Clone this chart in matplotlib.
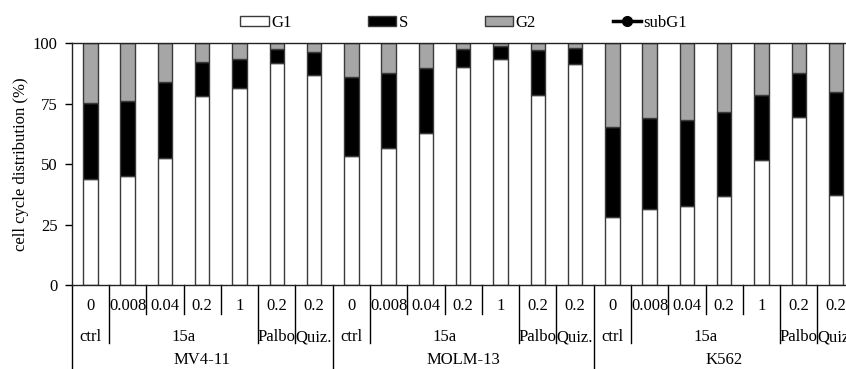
import matplotlib
matplotlib.use("Agg")
import matplotlib.pyplot as plt
from matplotlib.patches import Patch
from matplotlib.lines import Line2D
import numpy as np

plt.rcParams['font.family'] = ['Liberation Serif', 'DejaVu Serif']
plt.rcParams['font.size'] = 12

cell_lines = ["MV4-11", "MOLM-13", "K562"]
treatments = ["ctrl", "15a", "15a", "15a", "15a", "Palbo", "Quiz."]
doses = ["0", "0.008", "0.04", "0.2", "1", "0.2", "0.2"]

g1 = [44.0, 45.0, 52.7, 78.2, 81.5, 92.0, 86.9,
      53.4, 56.6, 62.8, 90.3, 93.4, 78.5, 91.4,
      28.0, 31.4, 32.7, 36.8, 51.7, 69.6, 37.2]
s = [31.5, 31.0, 31.4, 14.2, 11.9, 5.6, 9.4,
     32.7, 31.0, 27.1, 7.2, 5.5, 18.7, 6.5,
     37.5, 37.6, 35.6, 34.9, 26.9, 18.0, 42.8]
g2 = [24.5, 24.0, 15.9, 7.6, 6.6, 2.4, 3.7,
      13.9, 12.4, 10.1, 2.5, 1.1, 2.8, 2.1,
      34.5, 31.0, 31.7, 28.3, 21.4, 12.4, 20.0]

W, H = 846, 369
fig = plt.figure(figsize=(W / 100, H / 100), dpi=100)
left_px, right_px, top_px, bot_px = 71.7, 854.7, 43.3, 285.0
ax = fig.add_axes([left_px / W, 1 - bot_px / H, (right_px - left_px) / W, (bot_px - top_px) / H])

n = len(g1)
x = np.arange(n)
edge = "#3a3a3a"
bw = 0.39
ax.bar(x, g1, bw, color="white", edgecolor=edge, linewidth=1.0)
ax.bar(x, s, bw, bottom=g1, color="black", edgecolor=edge, linewidth=1.0)
ax.bar(x, g2, bw, bottom=np.array(g1) + np.array(s), color="#a6a6a6", edgecolor=edge, linewidth=1.0)

ax.set_xlim(-0.5, n - 0.5)
ax.set_ylim(0, 100)
ax.set_yticks([0, 25, 50, 75, 100])
ax.tick_params(axis="y", direction="out", length=5, width=1, pad=5, labelsize=12)
ax.set_xticks([])
for sp in ax.spines.values():
    sp.set_linewidth(1.0)
    sp.set_color("#222222")
ax.set_ylabel("cell cycle distribution (%)", fontsize=12, labelpad=3)

# hierarchical x-axis
trans = ax.get_xaxis_transform()
axh = bot_px - top_px
def yax(px):
    return (bot_px - px) / axh

y_short, y_long, y_full = yax(314), yax(343), yax(375)
row1, row2, row3 = yax(306), yax(337), yax(360)

ng = len(cell_lines)
per = len(treatments)
for gi in range(ng):
    off = gi * per
    ax.plot([off - 0.5, off - 0.5], [0, y_full], transform=trans, color="black", lw=1.0, clip_on=False)
    for k in range(per - 1):
        yb = y_long if treatments[k] != treatments[k + 1] else y_short
        ax.plot([off + k + 0.5, off + k + 0.5], [0, yb], transform=trans, color="black", lw=1.0, clip_on=False)
    for k in range(per):
        ax.text(off + k, row1, doses[k], transform=trans, ha="center", va="center", fontsize=12)
    k = 0
    while k < per:
        j = k
        while j + 1 < per and treatments[j + 1] == treatments[k]:
            j += 1
        ax.text(off + (k + j) / 2, row2, treatments[k], transform=trans, ha="center", va="center", fontsize=12)
        k = j + 1
    ax.text(off + (per - 1) / 2, row3, cell_lines[gi], transform=trans, ha="center", va="center", fontsize=12)
ax.plot([n - 0.5, n - 0.5], [0, y_full], transform=trans, color="black", lw=1.0, clip_on=False)

handles = [
    Patch(facecolor="white", edgecolor=edge, linewidth=1.0, label="G1"),
    Patch(facecolor="black", edgecolor=edge, linewidth=1.0, label="S"),
    Patch(facecolor="#a6a6a6", edgecolor=edge, linewidth=1.0, label="G2"),
    Line2D([0], [0], color="black", lw=2.5, marker="o", markersize=7, label="subG1"),
]
fig.legend(handles=handles, loc="center", bbox_to_anchor=(0.548, 0.938), ncol=4,
           frameon=False, columnspacing=4.6, handletextpad=0.15, handlelength=1.7,
           handleheight=0.55, fontsize=12)

fig.savefig("out.png", dpi=100)
